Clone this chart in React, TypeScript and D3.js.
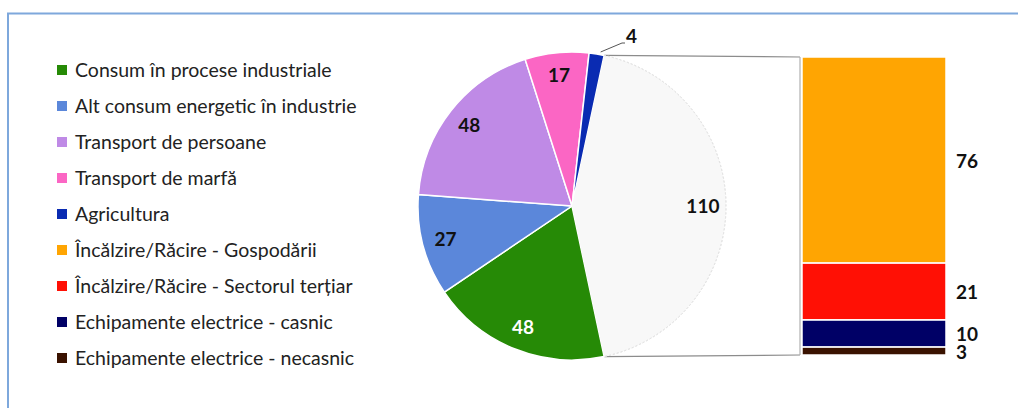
import React from "react";
import * as d3 from "d3";

const pieLabels = [
  "Consum în procese industriale",
  "Alt consum energetic în industrie",
  "Transport de persoane",
  "Transport de marfă",
  "Agricultura",
];
const pieValues = [48, 27, 48, 17, 4];
const otherValue = 110;
const barLabels = [
  "Echipamente electrice - necasnic",
  "Echipamente electrice - casnic",
  "Încălzire/Răcire - Sectorul terțiar",
  "Încălzire/Răcire - Gospodării",
];
const barValues = [3, 10, 21, 76];
const legendOrder = [
  "Consum în procese industriale",
  "Alt consum energetic în industrie",
  "Transport de persoane",
  "Transport de marfă",
  "Agricultura",
  "Încălzire/Răcire - Gospodării",
  "Încălzire/Răcire - Sectorul terțiar",
  "Echipamente electrice - casnic",
  "Echipamente electrice - necasnic",
];
const colors: Record<string, string> = {
  "Consum în procese industriale": "#268a06",
  "Alt consum energetic în industrie": "#5b87da",
  "Transport de persoane": "#bf8ae6",
  "Transport de marfă": "#fb66c4",
  "Agricultura": "#0a2bb2",
  "Încălzire/Răcire - Gospodării": "#ffa502",
  "Încălzire/Răcire - Sectorul terțiar": "#ff1005",
  "Echipamente electrice - casnic": "#000066",
  "Echipamente electrice - necasnic": "#3a1200",
};
const otherColor = "#f8f8f8";

const W = 1018;
const H = 408;
const FONT = "Lato, 'Liberation Sans', sans-serif";

export default function App() {
  const cx = 572;
  const cy = 206;
  const r = 154;
  const total = d3.sum(pieValues) + otherValue;
  const otherSpan = (otherValue / total) * 2 * Math.PI;
  const start = Math.PI / 2 + otherSpan / 2;
  const allVals = [...pieValues, otherValue];
  const arcs = d3
    .pie<number>()
    .sort(null)
    .startAngle(start)
    .endAngle(start + 2 * Math.PI)(allVals);
  const arcGen = d3.arc<d3.PieArcDatum<number>>().innerRadius(0).outerRadius(r);
  const labelArc = d3
    .arc<d3.PieArcDatum<number>>()
    .innerRadius(r * 0.85)
    .outerRadius(r * 0.85);

  const otherArc = arcs[arcs.length - 1];
  const pt = (a: number) => [cx + r * Math.sin(a), cy - r * Math.cos(a)];
  const [tx, ty] = pt(otherArc.startAngle);
  const [bx, by] = pt(otherArc.endAngle);

  const barX = 802;
  const barW = 144;
  const y = d3.scaleLinear().domain([0, d3.sum(barValues)]).range([355, 57]);
  const stack = barValues.map((v, i) => {
    const s = d3.sum(barValues.slice(0, i));
    return { v, s, e: s + v, label: barLabels[i] };
  });

  const agri = arcs[4];
  const agriMid = (agri.startAngle + agri.endAngle) / 2;
  const [ax, ay] = pt(agriMid);

  return (
    <div style={{ position: "absolute", left: 0, top: 0 }}>
      <svg width={W} height={H} style={{ display: "block", background: "#fff" }}>
        <path d={`M8,${H} V13.5 H${W}`} fill="none" stroke="#7ea8dc" strokeWidth={2} />

        {legendOrder.map((name, i) => {
          const ly = 70 + 36 * i;
          return (
            <g key={name}>
              <rect x={57} y={ly - 5} width={10} height={10} fill={colors[name]} />
              <text
                x={75}
                y={ly}
                dy="0.35em"
                fontFamily={FONT}
                fontSize={19.5}
                fill="#222"
              >
                {name}
              </text>
            </g>
          );
        })}

        {/* connector lines */}
        <line x1={tx} y1={ty} x2={barX - 2} y2={57} stroke="#8c8c8c" strokeWidth={1.2} />
        <line x1={bx} y1={by} x2={barX - 2} y2={355} stroke="#8c8c8c" strokeWidth={1.2} />
        <line x1={barX - 2} y1={57} x2={barX - 2} y2={355} stroke="#b0b0b0" strokeWidth={1.2} />

        {arcs.map((a, i) => (
          <path
            key={i}
            d={arcGen(a) as string}
            transform={`translate(${cx},${cy})`}
            fill={i < pieValues.length ? colors[pieLabels[i]] : otherColor}
            stroke="#fff"
            strokeWidth={i < pieValues.length ? 1.5 : 0}
          />
        ))}
        <path
          d={d3.arc()({ innerRadius: r, outerRadius: r, startAngle: otherArc.startAngle, endAngle: otherArc.endAngle }) as string}
          transform={`translate(${cx},${cy})`}
          fill="none"
          stroke="#e4e4e4"
          strokeWidth={1}
          strokeDasharray="2,2"
        />

        {arcs.map((a, i) => {
          if (i === 4) return null;
          const [lx, ly] = labelArc.centroid(a);
          const white = i === 0;
          return (
            <text
              key={i}
              x={cx + lx}
              y={cy + ly}
              dy="0.35em"
              textAnchor="middle"
              fontFamily={FONT}
              fontWeight="bold"
              fontSize={19}
              fill={white ? "#fff" : "#111"}
            >
              {allVals[i]}
            </text>
          );
        })}
        <polyline
          points={`${ax + 4},${ay - 2} ${622},${43} ${625},${43}`}
          fill="none"
          stroke="#555"
          strokeWidth={1}
        />
        <text x={626} y={36} dy="0.35em" fontFamily={FONT} fontWeight="bold" fontSize={19} fill="#111">
          {pieValues[4]}
        </text>

        {stack.map((d) => (
          <g key={d.label}>
            <rect
              x={barX}
              y={y(d.e)}
              width={barW}
              height={y(d.s) - y(d.e)}
              fill={colors[d.label]}
              stroke="#fff"
              strokeWidth={1.5}
            />
            <text
              x={956}
              y={(y(d.s) + y(d.e)) / 2 + 1}
              dy="0.35em"
              fontFamily={FONT}
              fontWeight="bold"
              fontSize={19}
              fill="#111"
            >
              {d.v}
            </text>
          </g>
        ))}
      </svg>
    </div>
  );
}
